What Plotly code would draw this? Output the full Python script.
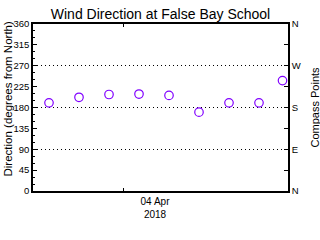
import plotly.graph_objects as go

# Data
times = ["2018-04-03 21:32", "2018-04-03 22:32", "2018-04-03 23:32",
         "2018-04-04 00:32", "2018-04-04 01:32", "2018-04-04 02:32",
         "2018-04-04 03:32", "2018-04-04 04:32", "2018-04-04 05:19"]
direction = [190, 202, 208, 209, 206, 170, 190, 190, 238]

deg_ticks = [0, 45, 90, 135, 180, 225, 270, 315, 360]
compass_vals = [0, 90, 180, 270, 360]
compass_text = ["N", "E", "S", "W", "N"]
compass_minor = [45, 135, 225, 315]
x_range = ["2018-04-03 21:00", "2018-04-04 05:30"]
day_tick = ["2018-04-04 00:00"]
day_label_pos = ["2018-04-04 01:04"]
day_label = ["04 Apr<br>2018"]

FONT = "Liberation Sans"
PURPLE = "#8000ff"

fig = go.Figure()
fig.add_trace(go.Scatter(
    x=times, y=direction, mode="markers",
    marker=dict(symbol="circle-open", size=8.5, color=PURPLE,
                line=dict(width=1.2, color=PURPLE)),
    showlegend=False, cliponaxis=False))
fig.add_trace(go.Scatter(
    x=times, y=direction, mode="markers", yaxis="y2",
    marker=dict(opacity=0), showlegend=False, hoverinfo="skip"))

fig.update_layout(
    width=320, height=240,
    margin=dict(l=33, r=32, t=24, b=49),
    paper_bgcolor="white", plot_bgcolor="white",
    font=dict(family=FONT, size=9, color="black"),
    title=dict(text="Wind Direction at False Bay School",
               x=0.5, xanchor="center", xref="paper",
               y=1 - 14 / 240, yanchor="middle", yref="container",
               font=dict(family=FONT, size=14, color="black")),
    xaxis=dict(
        type="date", range=x_range,
        tickmode="array", tickvals=day_label_pos, ticktext=day_label,
        ticks="", ticklen=0,
        showgrid=False, zeroline=False,
        showline=True, linecolor="black", linewidth=1.5, mirror="ticks",
        tickfont=dict(family=FONT, size=10),
        minor=dict(tickmode="array", tickvals=day_tick, ticks="inside",
                   ticklen=3, tickcolor="black", showgrid=False),
    ),
    yaxis=dict(
        range=[0, 360], tickmode="array", tickvals=deg_ticks,
        ticks="inside", ticklen=4, tickcolor="black",
        showgrid=False, zeroline=False,
        showline=True, linecolor="black", linewidth=1.5,
        tickfont=dict(family=FONT, size=9.5),
        minor=dict(dtick=15, tick0=0, ticks="inside", ticklen=2,
                   tickcolor="black", showgrid=False),
    ),
    yaxis2=dict(
        range=[0, 360], overlaying="y", side="right",
        tickmode="array", tickvals=compass_vals, ticktext=compass_text,
        ticks="inside", ticklen=4, tickcolor="black",
        showgrid=True, gridcolor="black", gridwidth=1, griddash="1px,3px",
        zeroline=False,
        showline=True, linecolor="black", linewidth=1.5,
        tickfont=dict(family=FONT, size=9.5),
        minor=dict(tickmode="array", tickvals=compass_minor, ticks="inside",
                   ticklen=4, tickcolor="black", showgrid=False),
    ),
    annotations=[
        dict(text="Direction (degrees from North)", textangle=-90,
             xref="paper", yref="paper", x=-33 / 255, y=0.5,
             xanchor="center", yanchor="middle", xshift=7, yshift=8,
             showarrow=False, font=dict(family=FONT, size=11.5, color="black")),
        dict(text="Compass Points", textangle=-90,
             xref="paper", yref="paper", x=1, y=0.5,
             xanchor="center", yanchor="middle", xshift=26,
             showarrow=False, font=dict(family=FONT, size=11, color="black")),
    ],
)

fig.write_html("out.html")
